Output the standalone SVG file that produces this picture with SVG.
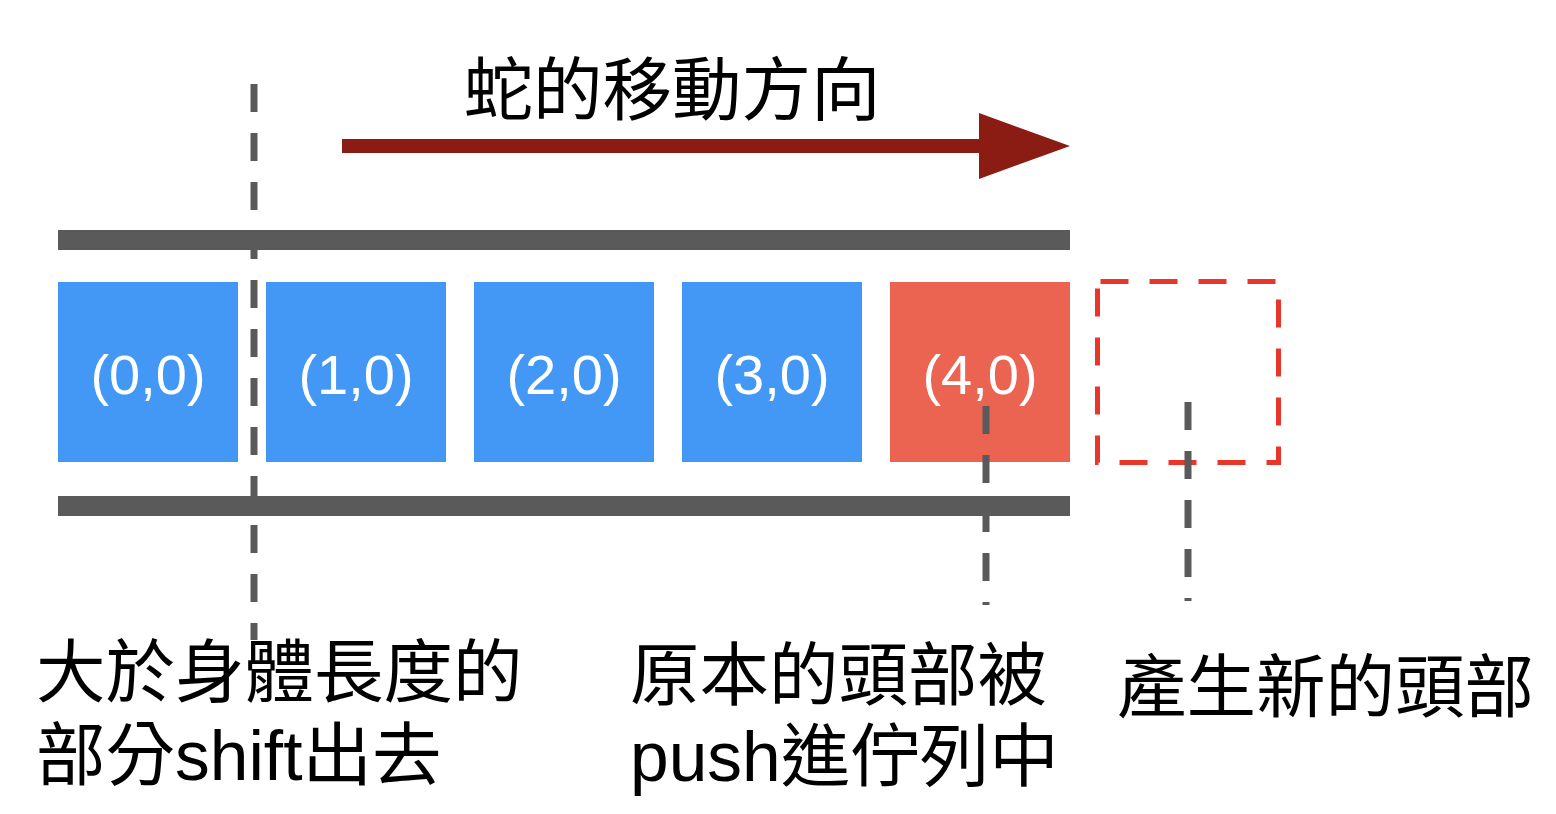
<svg xmlns="http://www.w3.org/2000/svg" width="1556" height="814" viewBox="0 0 1556 814">
<style>
.cjk{font-family:"Liberation Sans","Noto Sans CJK TC",sans-serif;font-size:69.5px;fill:#000}
.lbl{font-family:"Liberation Sans","Noto Sans CJK TC",sans-serif;font-size:56px;fill:#fff;text-anchor:middle}
.blue{fill:#4398F5}
.bar{fill:#5A5A5A}
.guide{stroke:#5A5A5A;stroke-width:7;stroke-dasharray:28 21;fill:none}
</style>
<rect width="1556" height="814" fill="#fff"/>
<g id="title"><text class="cjk" x="672" y="115" text-anchor="middle">蛇的移動方向</text></g>
<g id="direction-arrow">
<rect x="342" y="139" width="640" height="14" fill="#8B1C14"/>
<polygon points="979,113 1070,146 979,179" fill="#8B1C14"/>
</g>
<g id="rails">
<rect class="bar" x="58" y="230" width="1012" height="20"/>
<rect class="bar" x="58" y="496" width="1012" height="20"/>
</g>
<g id="cell-0"><rect class="blue" x="58" y="282" width="180" height="180"/><text class="lbl" x="148" y="394">(0,0)</text></g>
<g id="cell-1"><rect class="blue" x="266" y="282" width="180" height="180"/><text class="lbl" x="356" y="394">(1,0)</text></g>
<g id="cell-2"><rect class="blue" x="474" y="282" width="180" height="180"/><text class="lbl" x="564" y="394">(2,0)</text></g>
<g id="cell-3"><rect class="blue" x="682" y="282" width="180" height="180"/><text class="lbl" x="772" y="394">(3,0)</text></g>
<g id="cell-4"><rect x="890" y="282" width="180" height="180" fill="#EB6351"/><text class="lbl" x="980" y="394">(4,0)</text></g>
<g id="new-head"><rect x="1097.5" y="281.5" width="181" height="181" fill="none" stroke="#E8362A" stroke-width="5" stroke-dasharray="28 21" stroke-dashoffset="-3"/></g>
<g id="connectors">
<line class="guide" x1="254" y1="84" x2="254" y2="640"/>
<line class="guide" x1="986" y1="406" x2="986" y2="605"/>
<line class="guide" x1="1188" y1="402" x2="1188" y2="601"/>
</g>
<g id="label-shift">
<text class="cjk" x="36" y="697">大於身體長度的</text>
<text class="cjk" x="36" y="780">部分shift出去</text>
</g>
<g id="label-push">
<text class="cjk" x="630" y="700">原本的頭部被</text>
<text class="cjk" x="630" y="781">push進佇列中</text>
</g>
<g id="label-new"><text class="cjk" x="1117" y="712">產生新的頭部</text></g>
</svg>
